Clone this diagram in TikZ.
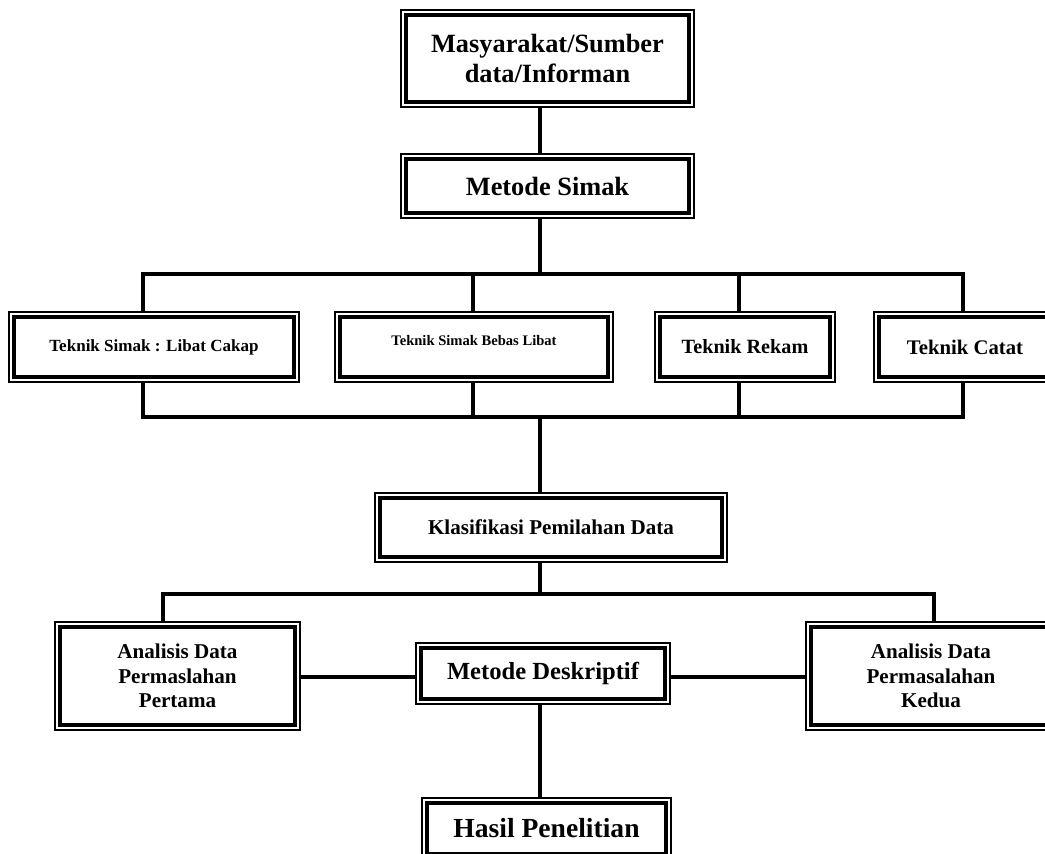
\documentclass[tikz,border=0pt]{standalone}
\usepackage{fontspec}
\setmainfont{Liberation Serif}

\begin{document}
\begin{tikzpicture}[x=0.02cm,y=-0.02cm,
  box/.style={draw,line width=0.8pt,align=center,inner sep=2pt,
    path picture={\draw[line width=1.9pt]
      ([shift={(0.1cm,0.1cm)}]path picture bounding box.south west) rectangle
      ([shift={(-0.1cm,-0.1cm)}]path picture bounding box.north east);}},
  link/.style={line width=2.3pt}]
%\draw[step=50,gray,very thin] (0,0) grid (1045,854);
\useasboundingbox (0,0) rectangle (1045,854);

\node[box,minimum width=5.86cm,minimum height=1.94cm,
  font=\bfseries\fontsize{15}{17}\selectfont] (masy) at (547.5,58.5)
  {Masyarakat/Sumber\\data/Informan};
\node[box,minimum width=5.86cm,minimum height=1.28cm,
  font=\bfseries\fontsize{15}{17}\selectfont] (simak) at (547.5,186) {Metode Simak};

%%%%%%%%%%%%%%%%%%%%%%%%%%%%%%%%%%%%%%%%
% teknik

\node[box,minimum width=5.8cm,minimum height=1.4cm,
  font=\bfseries\fontsize{9.7}{11}\selectfont] (t1) at (154,347) {Teknik Simak : Libat Cakap};
\node[box,minimum width=5.56cm,minimum height=1.4cm,text depth=8pt,
  font=\bfseries\fontsize{8.3}{10}\selectfont] (t2) at (474,347) {Teknik Simak Bebas Libat};
\node[box,minimum width=3.6cm,minimum height=1.4cm,
  font=\bfseries\fontsize{11.5}{13}\selectfont] (t3) at (745,347) {Teknik Rekam};
\node[box,minimum width=3.64cm,minimum height=1.4cm,
  font=\bfseries\fontsize{11.8}{13}\selectfont] (t4) at (965,347) {Teknik Catat};

\node[box,minimum width=7.04cm,minimum height=1.38cm,
  font=\bfseries\fontsize{12}{14}\selectfont] (klas) at (551,527.5) {Klasifikasi Pemilahan Data};

%%%%%%%%%%%%%%%%%%%%%%%%%%%%%%%%%%%%%%%%
% analisis

\node[box,minimum width=4.9cm,minimum height=2.16cm,
  font=\bfseries\fontsize{12}{14}\selectfont] (an1) at (177.5,676)
  {Analisis Data\\Permaslahan\\Pertama};
\node[box,minimum width=5cm,minimum height=2.16cm,
  font=\bfseries\fontsize{12}{14}\selectfont] (an2) at (931,676)
  {Analisis Data\\Permasalahan\\Kedua};
\node[box,minimum width=5.08cm,minimum height=1.22cm,
  font=\bfseries\fontsize{14}{16}\selectfont] (desk) at (543,673.5) {Metode Deskriptif};
\node[box,minimum width=4.98cm,minimum height=1.22cm,
  font=\bfseries\fontsize{15.7}{18}\selectfont] (hasil) at (546.5,828.5) {Hasil Penelitian};

%%%%%%%%%%%%%%%%%%%%%%%%%%%%%%%%%%%%%%%%
% lines

\coordinate (trunk) at (540,274);
\coordinate (top1) at (143,274);
\coordinate (top4) at (963,274);
\coordinate (v2) at (473,274);
\coordinate (v3) at (739,274);
\coordinate (bot1) at (143,417);
\coordinate (bot4) at (963,417);
\coordinate (low1) at (163,594);
\coordinate (low2) at (934,594);
\coordinate (mid) at (540,677);

\draw[link] (masy.south -| trunk)--(simak.north -| trunk);
\draw[link] (simak.south -| trunk)--(trunk);
\draw[link] (t1.north -| top1)--(top1)--(top4)--(t4.north -| top4);
\draw[link] (v2)--(t2.north -| v2);
\draw[link] (v3)--(t3.north -| v3);

\draw[link] (t1.south -| bot1)--(bot1)--(bot4)--(t4.south -| bot4);
\draw[link] (t2.south -| v2)--(bot1 -| v2);
\draw[link] (t3.south -| v3)--(bot1 -| v3);

\draw[link] (bot1 -| trunk)--(klas.north -| trunk);
\draw[link] (klas.south -| trunk)--(low1 -| trunk);
\draw[link] (an1.north -| low1)--(low1)--(low2)--(an2.north -| low2);

\draw[link] (an1.east |- mid)--(desk.west |- mid);
\draw[link] (desk.east |- mid)--(an2.west |- mid);
\draw[link] (desk.south -| trunk)--(hasil.north -| trunk);

\end{tikzpicture}
\end{document}
